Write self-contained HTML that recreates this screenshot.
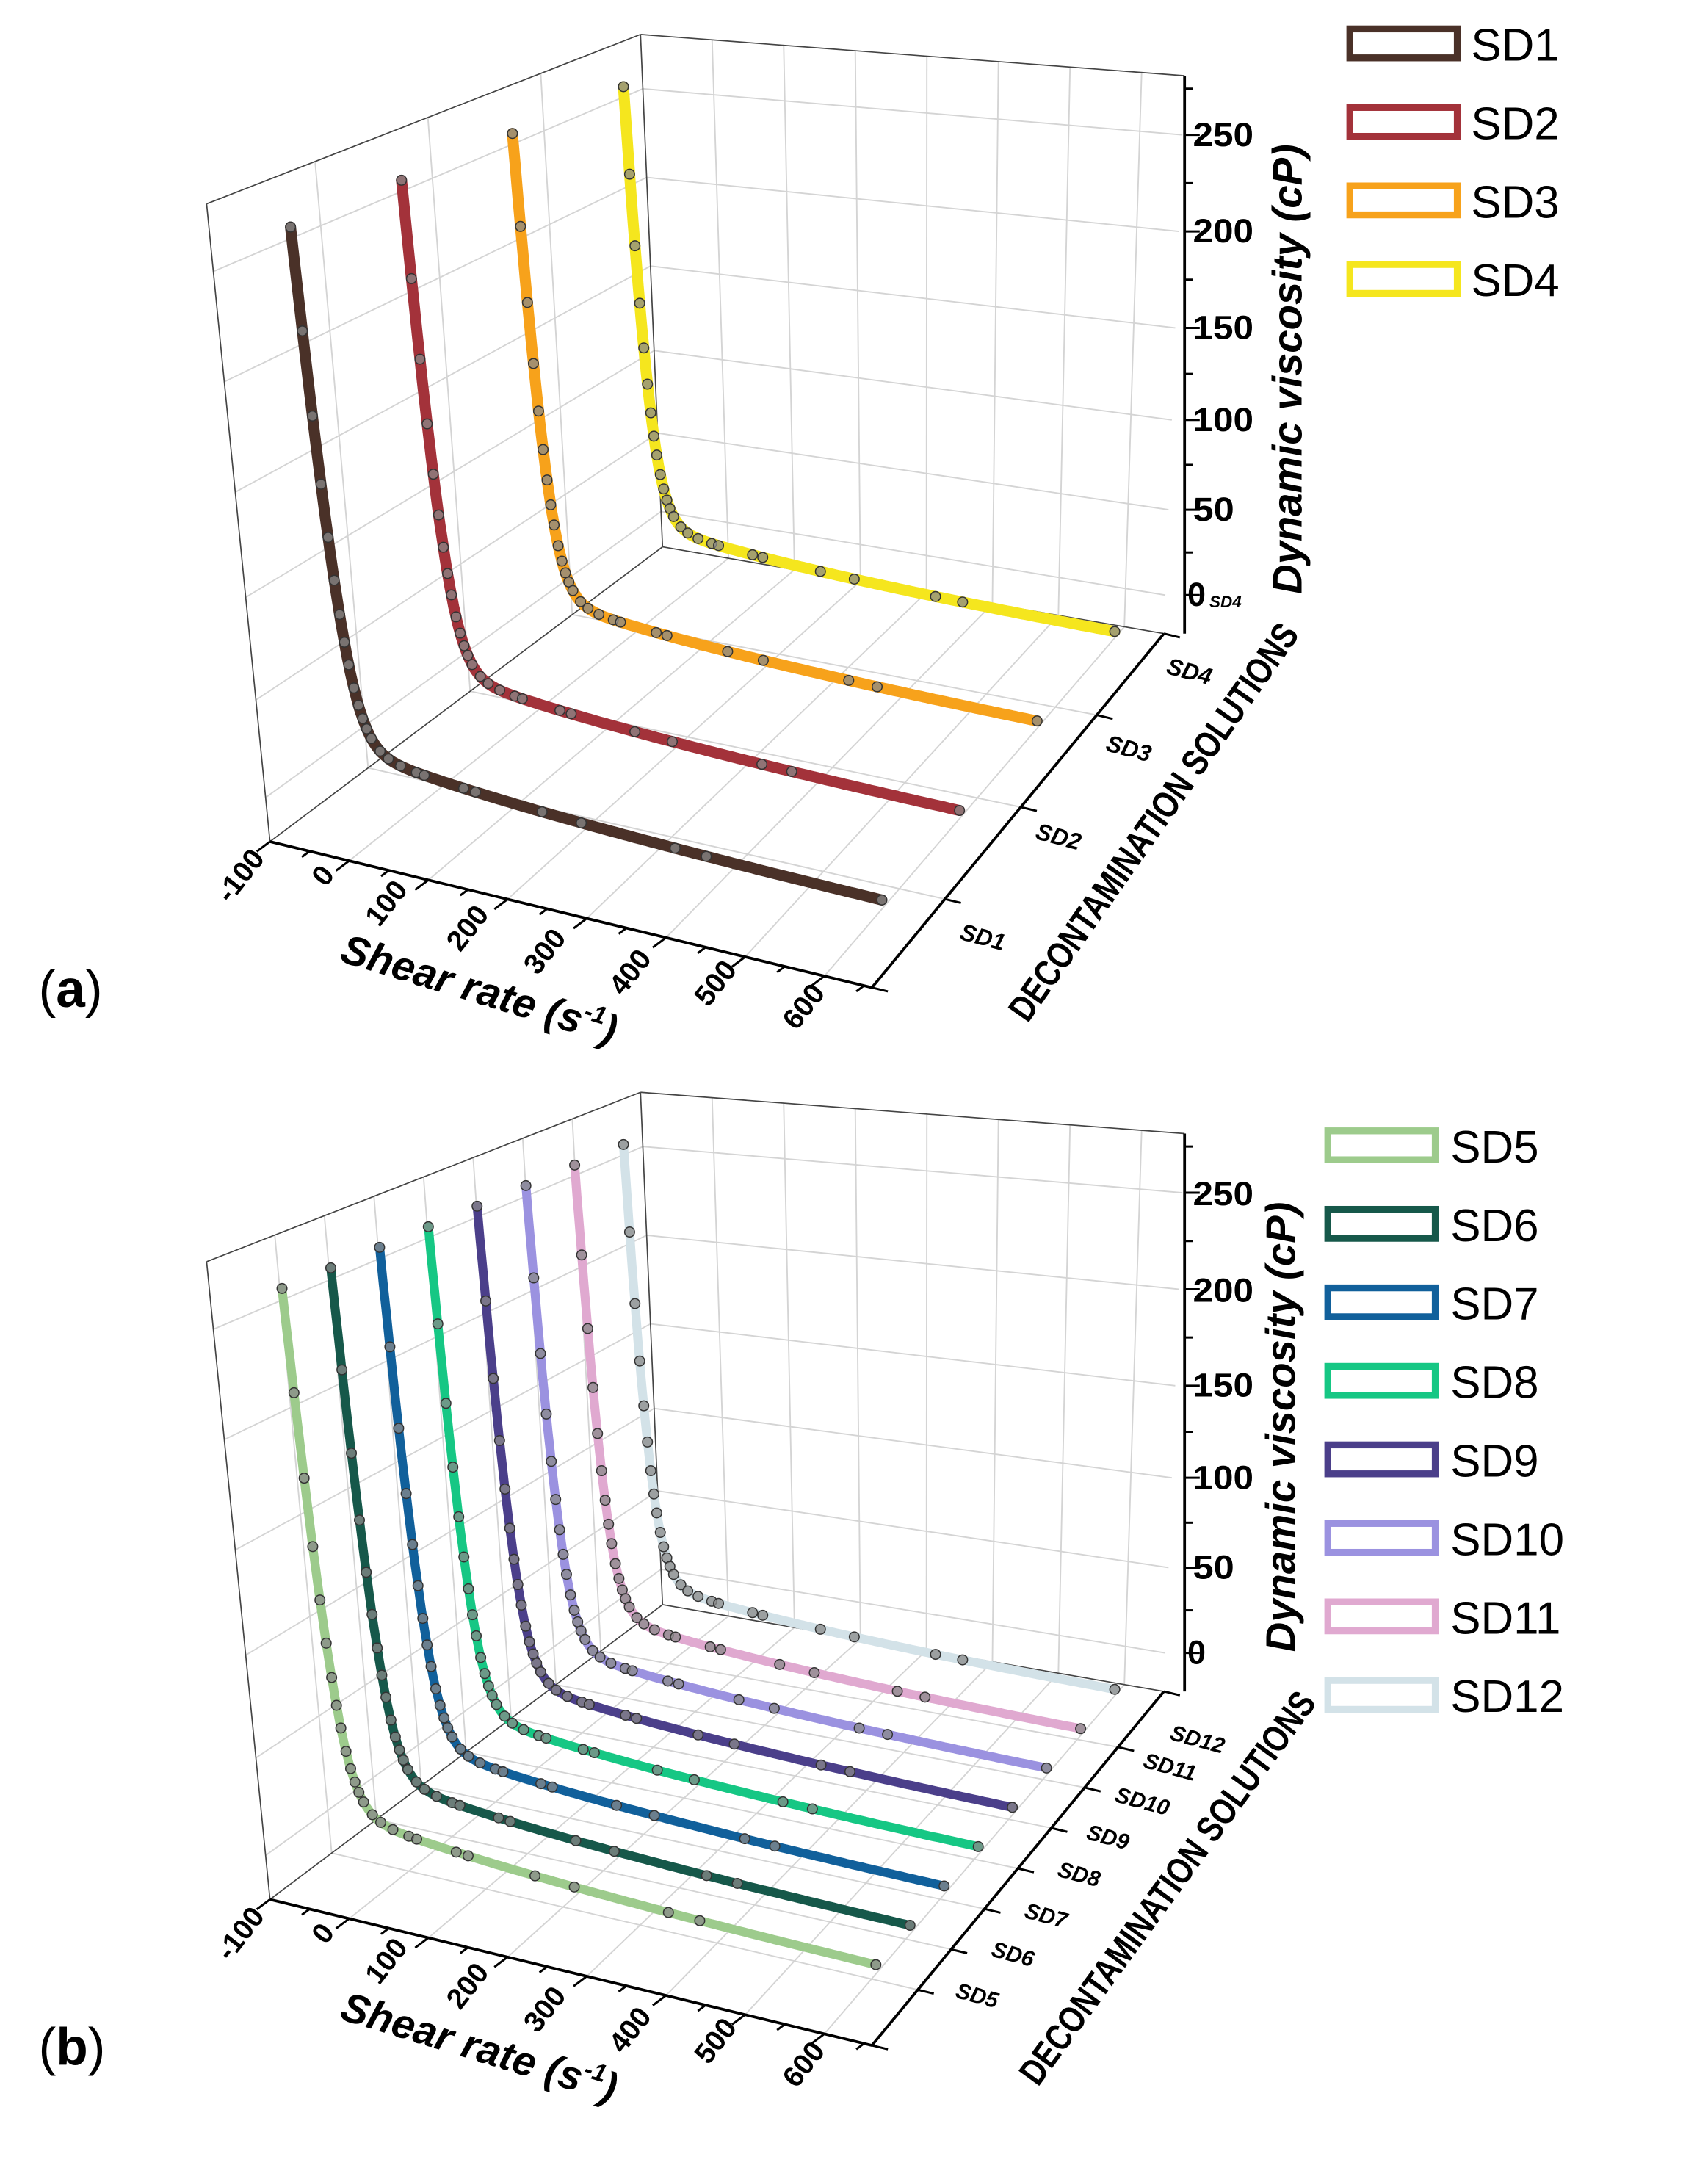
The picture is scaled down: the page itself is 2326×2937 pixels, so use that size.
<!DOCTYPE html>
<html><head><meta charset="utf-8"><style>
html,body{margin:0;padding:0;background:#fff;}
svg{display:block;}
text{font-family:"Liberation Sans",Arial,sans-serif;}
</style></head><body>
<svg id="s" xmlns="http://www.w3.org/2000/svg" width="2326" height="2937" viewBox="0 0 1240 1566" preserveAspectRatio="none">
<g id="ga"></g><g id="gb"></g>
<g font-weight="bold" fill="#000">
<g font-size="21">
<text transform="translate(180,640) rotate(-52)" text-anchor="middle">-100</text>
<text transform="translate(240,640) rotate(-52)" text-anchor="middle">0</text>
<text transform="translate(286,660) rotate(-52)" text-anchor="middle">100</text>
<text transform="translate(345,678) rotate(-52)" text-anchor="middle">200</text>
<text transform="translate(401,695) rotate(-52)" text-anchor="middle">300</text>
<text transform="translate(463,710) rotate(-52)" text-anchor="middle">400</text>
<text transform="translate(525,718) rotate(-52)" text-anchor="middle">500</text>
<text transform="translate(589,735) rotate(-52)" text-anchor="middle">600</text>
</g>
<text transform="translate(345,728) rotate(17)" text-anchor="middle" font-size="30" font-style="italic">Shear rate (s<tspan font-size="18" dy="-12">-1</tspan><tspan dy="12">)</tspan></text>
<g font-size="17" font-style="italic">
<text transform="translate(712,686) rotate(15)" text-anchor="middle">SD1</text>
<text transform="translate(767,613) rotate(15)" text-anchor="middle">SD2</text>
<text transform="translate(818,549) rotate(15)" text-anchor="middle">SD3</text>
<text transform="translate(862,493) rotate(15)" text-anchor="middle">SD4</text>
</g>
<text transform="translate(845,602) rotate(-55)" text-anchor="middle" font-size="27" textLength="345" lengthAdjust="spacingAndGlyphs">DECONTAMINATION SOLUTIONS</text>
<g font-size="24">
<text x="866" y="106" textLength="44" lengthAdjust="spacingAndGlyphs">250</text>
<text x="866" y="176" textLength="44" lengthAdjust="spacingAndGlyphs">200</text>
<text x="866" y="246" textLength="44" lengthAdjust="spacingAndGlyphs">150</text>
<text x="866" y="313" textLength="44" lengthAdjust="spacingAndGlyphs">100</text>
<text x="866" y="378" textLength="30" lengthAdjust="spacingAndGlyphs">50</text>
<text x="862" y="440">0</text>
</g>
<text x="878" y="441" font-size="12" font-style="italic">SD4</text>
<text transform="translate(945,268) rotate(-90)" text-anchor="middle" font-size="30" font-style="italic">Dynamic viscosity (cP)</text>

<g font-size="21">
<text transform="translate(180,1408) rotate(-52)" text-anchor="middle">-100</text>
<text transform="translate(240,1408) rotate(-52)" text-anchor="middle">0</text>
<text transform="translate(286,1428) rotate(-52)" text-anchor="middle">100</text>
<text transform="translate(345,1446) rotate(-52)" text-anchor="middle">200</text>
<text transform="translate(401,1463) rotate(-52)" text-anchor="middle">300</text>
<text transform="translate(463,1478) rotate(-52)" text-anchor="middle">400</text>
<text transform="translate(525,1486) rotate(-52)" text-anchor="middle">500</text>
<text transform="translate(589,1503) rotate(-52)" text-anchor="middle">600</text>
</g>
<text transform="translate(345,1496) rotate(17)" text-anchor="middle" font-size="30" font-style="italic">Shear rate (s<tspan font-size="18" dy="-12">-1</tspan><tspan dy="12">)</tspan></text>
<g font-size="16" font-style="italic">
<text transform="translate(708,1454) rotate(15)" text-anchor="middle">SD5</text>
<text transform="translate(734,1424) rotate(15)" text-anchor="middle">SD6</text>
<text transform="translate(758,1396) rotate(15)" text-anchor="middle">SD7</text>
<text transform="translate(782,1366) rotate(15)" text-anchor="middle">SD8</text>
<text transform="translate(803,1339) rotate(15)" text-anchor="middle">SD9</text>
<text transform="translate(828,1313) rotate(15)" text-anchor="middle">SD10</text>
<text transform="translate(848,1288) rotate(15)" text-anchor="middle">SD11</text>
<text transform="translate(868,1268) rotate(15)" text-anchor="middle">SD12</text>
</g>
<text transform="translate(855,1376) rotate(-54)" text-anchor="middle" font-size="27" textLength="345" lengthAdjust="spacingAndGlyphs">DECONTAMINATION SOLUTIONS</text>
<g font-size="24">
<text x="866" y="875" textLength="44" lengthAdjust="spacingAndGlyphs">250</text>
<text x="866" y="945" textLength="44" lengthAdjust="spacingAndGlyphs">200</text>
<text x="866" y="1014" textLength="44" lengthAdjust="spacingAndGlyphs">150</text>
<text x="866" y="1081" textLength="44" lengthAdjust="spacingAndGlyphs">100</text>
<text x="866" y="1146" textLength="30" lengthAdjust="spacingAndGlyphs">50</text>
<text x="862" y="1208">0</text>
</g>
<text transform="translate(940,1036) rotate(-90)" text-anchor="middle" font-size="30" font-style="italic">Dynamic viscosity (cP)</text>
</g>

<text x="28" y="731" font-family="Liberation Serif,serif" font-size="38">(<tspan font-weight="bold">a</tspan>)</text>
<text x="28" y="1499" font-family="Liberation Serif,serif" font-size="38">(<tspan font-weight="bold">b</tspan>)</text>

<g font-size="33" fill="#000">
<rect x="980" y="21" width="78" height="21" fill="none" stroke="#4a3128" stroke-width="5"/><text x="1068" y="44">SD1</text>
<rect x="980" y="78" width="78" height="21" fill="none" stroke="#a3323a" stroke-width="5"/><text x="1068" y="101">SD2</text>
<rect x="980" y="135" width="78" height="21" fill="none" stroke="#f7a21b" stroke-width="5"/><text x="1068" y="158">SD3</text>
<rect x="980" y="192" width="78" height="21" fill="none" stroke="#f5e61e" stroke-width="5"/><text x="1068" y="215">SD4</text>

<rect x="964" y="821" width="78" height="21" fill="none" stroke="#9dcb8c" stroke-width="5"/><text x="1053" y="844">SD5</text>
<rect x="964" y="878" width="78" height="21" fill="none" stroke="#16584a" stroke-width="5"/><text x="1053" y="901">SD6</text>
<rect x="964" y="935" width="78" height="21" fill="none" stroke="#11609b" stroke-width="5"/><text x="1053" y="958">SD7</text>
<rect x="964" y="992" width="78" height="21" fill="none" stroke="#16c784" stroke-width="5"/><text x="1053" y="1015">SD8</text>
<rect x="964" y="1049" width="78" height="21" fill="none" stroke="#4b3f8a" stroke-width="5"/><text x="1053" y="1072">SD9</text>
<rect x="964" y="1106" width="78" height="21" fill="none" stroke="#9b92e0" stroke-width="5"/><text x="1053" y="1129">SD10</text>
<rect x="964" y="1163" width="78" height="21" fill="none" stroke="#e0a9d0" stroke-width="5"/><text x="1053" y="1186">SD11</text>
<rect x="964" y="1220" width="78" height="21" fill="none" stroke="#d3e2e8" stroke-width="5"/><text x="1053" y="1243">SD12</text>
</g>
</svg>
<script>
(function(){
var NS="http://www.w3.org/2000/svg";
var FL=[196,611],FR=[633,717],BR=[845,460],BL=[481,397];
var VFL=[-46,-463],VFR=[-15,-496],VBR=[15,-405],VBL=[-16,-372];
var ZT=[[-21,0],[0,.069],[50,.222],[100,.383],[150,.548],[200,.721],[250,.894],[282,1]];
function zt(z){for(var i=0;i<ZT.length-1;i++){if(z<=ZT[i+1][0]||i==ZT.length-2){var a=ZT[i],b=ZT[i+1];return a[1]+(z-a[0])/(b[0]-a[0])*(b[1]-a[1]);}}}
function bil(a,b,c,d,u,v,k){return (1-u)*(1-v)*a[k]+u*(1-v)*b[k]+u*v*c[k]+(1-u)*v*d[k];}
function P(s,v,z,oy){var u=(s+100)/760;var t=zt(z);
 return [bil(FL,FR,BR,BL,u,v,0)+t*bil(VFL,VFR,VBR,VBL,u,v,0), bil(FL,FR,BR,BL,u,v,1)+t*bil(VFL,VFR,VBR,VBL,u,v,1)+oy];}
function el(g,n,at){var e=document.createElementNS(NS,n);for(var k in at)e.setAttribute(k,at[k]);g.appendChild(e);return e;}
function line(g,a,b,c,w){el(g,"line",{x1:a[0],y1:a[1],x2:b[0],y2:b[1],stroke:c,"stroke-width":w});}
function Z(q){return 250*Math.exp(-q/14)+17*Math.exp(-q/250)-4;}
function panel(id,oy,colors){
 var g=document.getElementById(id);var n=colors.length;var gc="#d4d4d4";
 var vs=[];for(var i=0;i<n;i++)vs.push((n>4?0.10:0.12)+i*(n>4?0.80:0.78)/(n-1));
 var bnd=[0];for(i=0;i<n-1;i++)bnd.push((vs[i]+vs[i+1])/2);bnd.push(1);
 for(var s=0;s<=600;s+=100){line(g,P(s,1,-21,oy),P(s,1,282,oy),gc,1);}
 for(var z=0;z<=250;z+=50){line(g,P(-100,1,z,oy),P(660,1,z,oy),gc,1);}
 for(z=0;z<=250;z+=50){line(g,P(-100,0,z,oy),P(-100,1,z,oy),gc,1);}
 for(i=1;i<bnd.length-1;i++){line(g,P(-100,bnd[i],-21,oy),P(-100,bnd[i],282,oy),gc,1);}
 for(s=0;s<=600;s+=100){line(g,P(s,0,-21,oy),P(s,1,-21,oy),gc,1);}
 for(i=1;i<bnd.length-1;i++){line(g,P(-100,bnd[i],-21,oy),P(660,bnd[i],-21,oy),gc,1);}
 var oc="#444";
 line(g,P(-100,0,-21,oy),P(-100,0,282,oy),oc,0.9);
 line(g,P(-100,0,282,oy),P(-100,1,282,oy),oc,0.9);
 line(g,P(-100,1,282,oy),P(660,1,282,oy),oc,0.9);
 line(g,P(-100,1,-21,oy),P(-100,1,282,oy),oc,0.9);
 line(g,P(-100,0,-21,oy),P(-100,1,-21,oy),oc,0.9);
 line(g,P(-100,1,-21,oy),P(660,1,-21,oy),oc,0.9);
 line(g,P(-100,0,-21,oy),P(660,0,-21,oy),"#000",2);
 line(g,P(660,0,-21,oy),P(660,1,-21,oy),"#000",2);
 line(g,[860,55+oy],[860,460+oy],"#000",2);
 for(s=-100;s<=650;s+=50){var p=P(s,0,-21,oy);var L=(s%100==0)?12:7;line(g,p,[p[0]-0.8*L,p[1]+0.6*L],"#000",1.6);}
 for(i=0;i<bnd.length;i++){p=P(660,bnd[i],-21,oy);line(g,p,[p[0]+11.6,p[1]+2.8],"#000",1.6);}
 for(z=0;z<=275;z+=25){var y=460-405*zt(z)+oy;line(g,[860,y],[(z%50==0)?871:866,y],"#000",1.6);}
 var xs=[0,3,6,9,12,15,18,21,24,28,32,36,40,45,55,65,80,100,110,160,175,260,310,430,470,695];
 for(i=n-1;i>=0;i--){
  var pts=[];
  for(var q=0;q<=695;q+=(q<60?1:5)){var pp=P(q-66,vs[i],Z(q),oy);pts.push(pp[0].toFixed(1)+","+pp[1].toFixed(1));}
  el(g,"polyline",{points:pts.join(" "),fill:"none",stroke:colors[i],"stroke-width":n>4?6.5:8,"stroke-linejoin":"round","stroke-linecap":"round"});
  for(var j=0;j<xs.length;j++){var x=xs[j];var d=P(x-66,vs[i],Z(x),oy);
   el(g,"circle",{cx:d[0],cy:d[1],r:3.6,fill:"#8a8a8a","fill-opacity":0.75,stroke:"#333","stroke-width":0.8});}
 }
}
panel("ga",0,["#4a3128","#a3323a","#f7a21b","#f5e61e"]);
panel("gb",768,["#9dcb8c","#16584a","#11609b","#16c784","#4b3f8a","#9b92e0","#e0a9d0","#d3e2e8"]);
})();
</script>
</body></html>
